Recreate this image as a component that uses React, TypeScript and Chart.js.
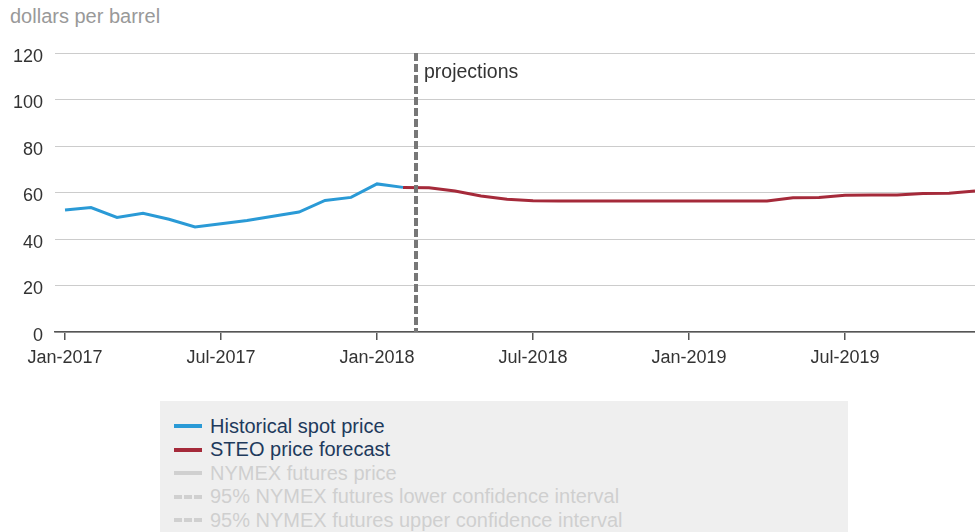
import React, { useEffect, useRef } from "react";
import { Chart, registerables } from "chart.js";

Chart.register(...registerables);

// Month index 0 = Jan-2017
const tickMonths = [0, 6, 12, 18, 24, 30];
const tickLabels = ["Jan-2017", "Jul-2017", "Jan-2018", "Jul-2018", "Jan-2019", "Jul-2019"];

const historicalMonths = [0, 1, 2, 3, 4, 5, 6, 7, 8, 9, 10, 11, 12, 13];
const historicalPrice = [52.5, 53.5, 49.3, 51.1, 48.5, 45.2, 46.6, 48.0, 49.8, 51.6, 56.6, 57.9, 63.7, 62.2];

const forecastMonths = [13, 14, 15, 16, 17, 18, 19, 20, 21, 22, 23, 24, 25, 26, 27, 28, 29, 30, 31, 32, 33, 34, 35];
const forecastPrice = [62.2, 62.0, 60.6, 58.5, 57.1, 56.4, 56.3, 56.3, 56.3, 56.3, 56.3, 56.3, 56.3, 56.3, 56.3, 57.7, 57.8, 58.8, 58.9, 58.9, 59.6, 59.7, 60.6];

const projectionStart = 13.5;
const projectionLabel = "projections";

const legendItems = [
  { label: "Historical spot price", color: "#2a9ad6", active: true, dash: false },
  { label: "STEO price forecast", color: "#a52a3a", active: true, dash: false },
  { label: "NYMEX futures price", color: "#d0d0d0", active: false, dash: false },
  { label: "95% NYMEX futures lower confidence interval", color: "#d0d0d0", active: false, dash: true },
  { label: "95% NYMEX futures upper confidence interval", color: "#d0d0d0", active: false, dash: true },
];

const FONT = "'Liberation Sans', Arial, Helvetica, sans-serif";

export default function App() {
  const ref = useRef<HTMLCanvasElement | null>(null);

  useEffect(() => {
    if (!ref.current) return;
    const projPlugin = {
      id: "proj",
      afterDatasetsDraw(chart: any) {
        const { ctx, chartArea, scales } = chart;
        const x = scales.x.getPixelForValue(projectionStart);
        ctx.save();
        ctx.strokeStyle = "#777777";
        ctx.lineWidth = 4;
        ctx.setLineDash([8, 3]);
        ctx.beginPath();
        ctx.moveTo(x, chartArea.top);
        ctx.lineTo(x, chartArea.bottom);
        ctx.stroke();
        ctx.setLineDash([]);
        ctx.fillStyle = "#333333";
        ctx.font = `19.5px ${FONT}`;
        ctx.textBaseline = "middle";
        ctx.textAlign = "left";
        ctx.fillText(projectionLabel, x + 8, chartArea.top + 20);
        ctx.restore();
      },
    };

    const chart = new Chart(ref.current, {
      type: "line",
      data: {
        datasets: [
          {
            label: legendItems[0].label,
            data: historicalMonths.map((m, i) => ({ x: m, y: historicalPrice[i] })),
            borderColor: legendItems[0].color,
            borderWidth: 3,
            pointRadius: 0,
            tension: 0,
          },
          {
            label: legendItems[1].label,
            data: forecastMonths.map((m, i) => ({ x: m, y: forecastPrice[i] })),
            borderColor: legendItems[1].color,
            borderWidth: 3,
            pointRadius: 0,
            tension: 0,
          },
        ],
      },
      options: {
        animation: false,
        responsive: false,
        maintainAspectRatio: false,
        layout: { padding: { top: 53, right: 0, left: 0, bottom: 0 } },
        plugins: {
          legend: { display: false },
          tooltip: { enabled: false },
          title: { display: false },
        },
        scales: {
          x: {
            type: "linear",
            min: -0.385,
            max: 35,
            afterBuildTicks: (axis: any) => {
              axis.ticks = tickMonths.map((v) => ({ value: v }));
            },
            afterFit: (axis: any) => {
              axis.height = 48;
            },
            ticks: {
              autoSkip: false,
              maxRotation: 0,
              color: "#333333",
              font: { family: FONT, size: 18 },
              padding: 7,
              callback: (v: any) => {
                const i = tickMonths.indexOf(Number(v));
                return i >= 0 ? tickLabels[i] : "";
              },
            },
            grid: {
              display: true,
              drawOnChartArea: false,
              drawTicks: true,
              tickLength: 8,
              color: "#555555",
              lineWidth: 1.5,
            },
            border: { display: true, color: "#555555", width: 1.5 },
          },
          y: {
            min: 0,
            max: 120,
            afterFit: (axis: any) => {
              axis.width = 55;
            },
            ticks: {
              stepSize: 20,
              color: "#333333",
              font: { family: FONT, size: 18 },
              padding: 12,
              labelOffset: 4,
            },
            grid: {
              color: "#cccccc",
              lineWidth: 1,
              drawTicks: false,
            },
            border: { display: false },
          },
        },
      },
      plugins: [projPlugin],
    } as any);
    return () => chart.destroy();
  }, []);

  return (
    <div style={{ position: "absolute", left: 0, top: 0, width: 975, height: 532, overflow: "hidden", background: "#fff", fontFamily: FONT }}>
      <div style={{ position: "absolute", left: 10, top: 5, fontSize: 20, color: "#999999", whiteSpace: "nowrap" }}>dollars per barrel</div>
      <canvas ref={ref} width={975} height={380} style={{ position: "absolute", left: 0, top: 0, width: 975, height: 380 }} />
      <div style={{ position: "absolute", left: 160, top: 401, width: 688, height: 160, background: "#efefef" }}>
        {legendItems.map((it, i) => (
          <div key={i} style={{ position: "absolute", left: 14, top: 14 + i * 23.5, height: 22, display: "flex", alignItems: "center" }}>
            <div style={{ width: 28, height: 0, borderTop: `4px ${it.dash ? "dashed" : "solid"} ${it.color}`, marginRight: 8 }} />
            <span style={{ fontSize: 20, color: it.active ? "#1e3a5c" : "#cfcfcf", whiteSpace: "nowrap" }}>{it.label}</span>
          </div>
        ))}
      </div>
    </div>
  );
}
